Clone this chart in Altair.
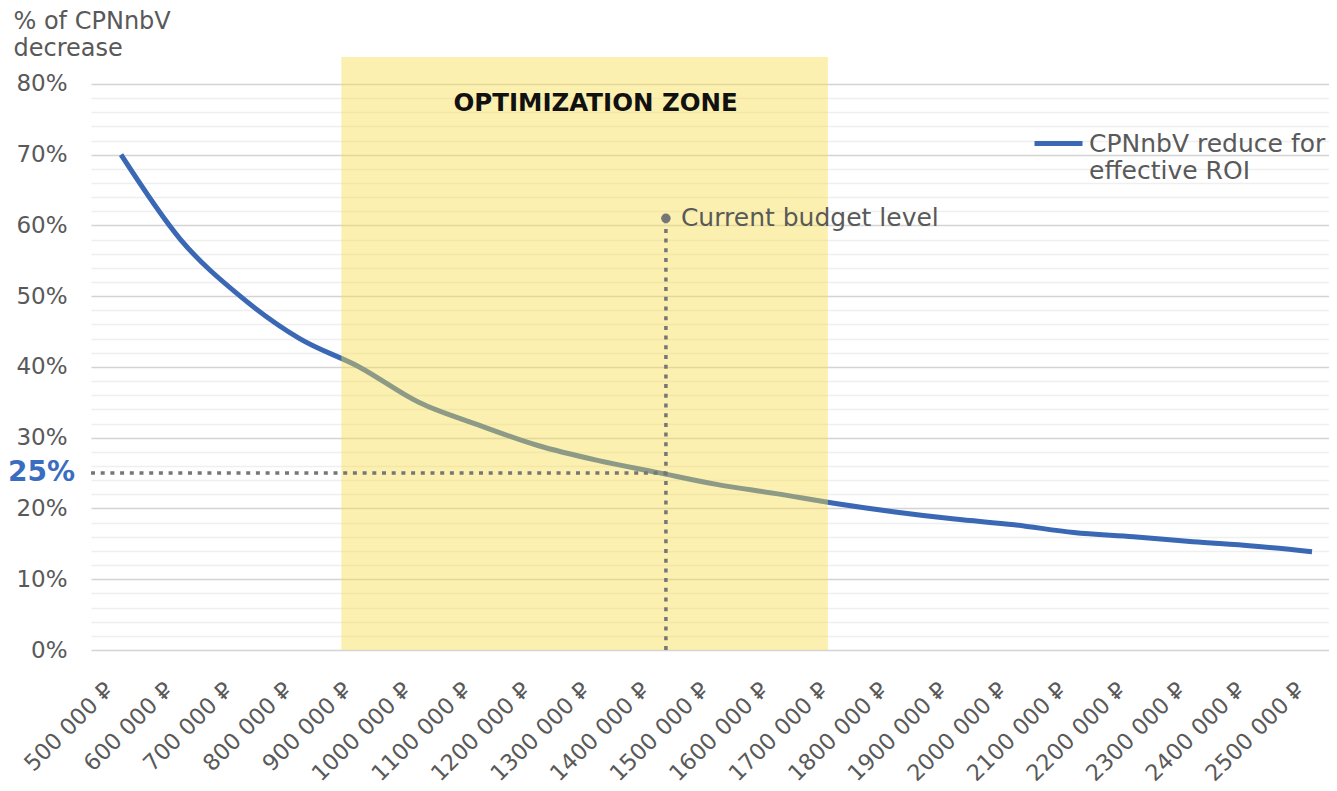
import altair as alt
import pandas as pd

# ---- data ----
budgets = [500000, 600000, 700000, 800000, 900000, 1000000, 1100000, 1200000,
           1300000, 1400000, 1500000, 1600000, 1700000, 1800000, 1900000,
           2000000, 2100000, 2200000, 2300000, 2400000, 2500000]
decrease = [0.70, 0.58, 0.50, 0.44, 0.40, 0.35, 0.318, 0.289, 0.268, 0.251,
            0.234, 0.221, 0.207, 0.195, 0.185, 0.177, 0.166, 0.160, 0.153,
            0.147, 0.139]
series_name = ["CPNnbV reduce for effective ROI"]
zone = [870000, 1687000]            # optimization zone (x range)
zone_label = ["OPTIMIZATION ZONE"]
current_budget = [1415000]          # current budget level (x)
current_marker = [0.61]             # marker height
target_level = [0.25]               # highlighted level
y_ticks = [round(i * 0.02, 2) for i in range(41)]
x_ticks = budgets

X_DOMAIN = [449600, 2528500]
Y_DOMAIN = [0, 0.838]

FONT = "DejaVu Sans"
GRAY = "#595959"
BLUE = "#3A68B4"

line_df = pd.DataFrame({"budget": budgets, "decrease": decrease,
                        "series": series_name * len(budgets)})
zone_df = pd.DataFrame({"x0": [zone[0]], "x1": [zone[1]],
                        "y0": [Y_DOMAIN[0]], "y1": [Y_DOMAIN[1]],
                        "xc": [1297000], "yc": [0.772], "label": zone_label})
cur_df = pd.DataFrame({"x": current_budget, "y": current_marker,
                       "level": target_level, "zero": [0],
                       "xmin": [X_DOMAIN[0]],
                       "label": ["Current budget level"],
                       "lvl_label": ["25%"]})

x_scale = alt.Scale(domain=X_DOMAIN, nice=False, zero=False)
y_scale = alt.Scale(domain=Y_DOMAIN, nice=False, zero=False)

x_axis = alt.Axis(
    values=x_ticks, tickCount=100, grid=False, ticks=False, domain=False,
    labelExpr="format(datum.value/1000, 'd') + ' 000 ₽'",
    labelAngle=-45, labelAlign="right", labelBaseline="middle",
    labelPadding=36, labelOffset=-12, labelFont=FONT, labelFontSize=22.5,
    labelColor=GRAY, title=None, labelOverlap=False,
)
y_axis = alt.Axis(
    values=y_ticks, tickCount=100, grid=True, ticks=False, domain=False,
    gridColor={"condition": {"test": "round(datum.value*100) % 10 === 0",
                             "value": "#d4d4d4"}, "value": "#efefef"},
    gridWidth=1.6, labelOverlap=False,
    labelExpr="round(datum.value*100) % 10 === 0 ? round(datum.value*100) + '%' : ''",
    labelFont=FONT, labelFontSize=23, labelColor=GRAY, labelPadding=24,
    title=["% of CPNnbV", "decrease"], titleAngle=0, titleAlign="left",
    titleBaseline="alphabetic", titleX=-78, titleY=-29, titleFont=FONT,
    titleFontSize=24, titleFontWeight="normal", titleColor=GRAY,
    titleLineHeight=27,
)

line = alt.Chart(line_df).mark_line(strokeWidth=5, interpolate="monotone").encode(
    x=alt.X("budget:Q", scale=x_scale, axis=x_axis),
    y=alt.Y("decrease:Q", scale=y_scale, axis=y_axis),
    color=alt.Color("series:N", scale=alt.Scale(range=[BLUE]),
                    legend=alt.Legend(
                        orient="none", legendX=941, legendY=60, title=None,
                        symbolType="stroke", symbolSize=2304,
                        symbolStrokeWidth=5, labelFont=FONT, labelFontSize=25,
                        labelColor=GRAY, labelLimit=600, labelOffset=4,
                        labelBaseline="middle",
                        labelExpr="['CPNnbV reduce for', 'effective ROI']")),
)

zone_rect = alt.Chart(zone_df).mark_rect(color="#F8DD4B", opacity=0.44).encode(
    x=alt.X("x0:Q", scale=x_scale), x2="x1:Q",
    y=alt.Y("y0:Q", scale=y_scale), y2="y1:Q",
)

zone_text = alt.Chart(zone_df).mark_text(
    font=FONT, fontSize=24.5, fontWeight="bold", color="#111111",
    align="center", baseline="middle").encode(
    x=alt.X("xc:Q", scale=x_scale), y=alt.Y("yc:Q", scale=y_scale), text="label:N")

dot_style = dict(color="#767676", strokeWidth=3.5, strokeDash=[4, 5.7])
h_rule = alt.Chart(cur_df).mark_rule(**dot_style).encode(
    x=alt.X("xmin:Q", scale=x_scale), x2="x:Q",
    y=alt.Y("level:Q", scale=y_scale))
v_rule = alt.Chart(cur_df).mark_rule(**dot_style).encode(
    x=alt.X("x:Q", scale=x_scale),
    y=alt.Y("zero:Q", scale=y_scale), y2="y:Q")

marker = alt.Chart(cur_df).mark_point(filled=True, opacity=1, color="#767676",
                                      size=90).encode(
    x=alt.X("x:Q", scale=x_scale), y=alt.Y("y:Q", scale=y_scale))

cur_text = alt.Chart(cur_df).mark_text(
    font=FONT, fontSize=25, color=GRAY, align="left", baseline="middle",
    dx=15).encode(
    x=alt.X("x:Q", scale=x_scale), y=alt.Y("y:Q", scale=y_scale), text="label:N")

lvl_text = alt.Chart(cur_df).mark_text(
    font=FONT, fontSize=28, fontWeight="bold", color="#3A6DBF",
    align="right", baseline="middle").encode(
    x=alt.value(-16), y=alt.Y("level:Q", scale=y_scale), text="lvl_label:N")

chart = alt.layer(line, zone_rect, h_rule, v_rule, marker, cur_text,
                  zone_text, lvl_text).properties(
    width=1238, height=593,
    autosize=alt.AutoSizeParams(type="none"),
    padding={"left": 83, "top": 49, "right": 0, "bottom": 141},
).configure_view(stroke=None)

chart.save("out.html", embed_options={"renderer": "svg", "actions": False})
